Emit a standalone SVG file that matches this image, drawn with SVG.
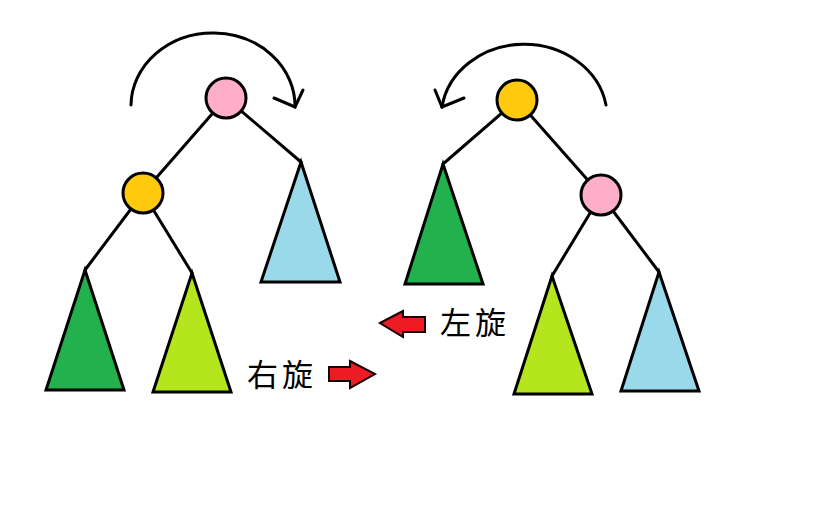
<svg xmlns="http://www.w3.org/2000/svg" width="818" height="524" viewBox="0 0 818 524">
<style>
.edge{stroke:#000;stroke-width:3;fill:none;stroke-linecap:round}
.circ{stroke:#000;stroke-width:3}
.tri{stroke:#000;stroke-width:3;stroke-linejoin:miter}
.rot{stroke:#000;stroke-width:3;fill:none;stroke-linecap:round;stroke-linejoin:miter}
.red{fill:#ED1C24;stroke:#1a0000;stroke-width:2;stroke-linejoin:miter}
.lbl{font-family:"Noto Sans CJK SC","Noto Sans CJK JP",sans-serif;font-size:31px;letter-spacing:4px;fill:#000}
</style>
<rect width="818" height="524" fill="#fff"/>
<g id="connectors">
<line class="edge" x1="226" y1="98" x2="143" y2="193"/>
<line class="edge" x1="226" y1="98" x2="301" y2="162"/>
<line class="edge" x1="143" y1="193" x2="85" y2="270"/>
<line class="edge" x1="143" y1="193" x2="192" y2="273"/>
<line class="edge" x1="517" y1="100" x2="443" y2="164"/>
<line class="edge" x1="517" y1="100" x2="601" y2="195"/>
<line class="edge" x1="601" y1="195" x2="552" y2="276"/>
<line class="edge" x1="601" y1="195" x2="659" y2="272"/>
</g>
<g id="rotate-right-arc">
<path class="rot" d="M131,105 A82,73 0 0 1 295,107"/>
<path class="rot" d="M274,98 L295,107 L303,90"/>
</g>
<g id="rotate-left-arc">
<path class="rot" d="M606,105 A83,73 0 0 0 442,107"/>
<path class="rot" d="M435,90 L442,107 L464,98"/>
</g>
<g id="L-tri-A"><polygon class="tri" fill="#22B14C" points="85,270 124,390 46,390"/></g>
<g id="L-tri-B"><polygon class="tri" fill="#B5E61D" points="192,273 231,392 153,392"/></g>
<g id="L-tri-C"><polygon class="tri" fill="#99D9EA" points="301,162 340,282 261,282"/></g>
<g id="L-node-pink"><circle class="circ" cx="226" cy="98" r="20" fill="#FFAEC9"/></g>
<g id="L-node-orange"><circle class="circ" cx="143" cy="193" r="20" fill="#FFC90E"/></g>
<g id="R-tri-A"><polygon class="tri" fill="#22B14C" points="443,164 483,284 405,284"/></g>
<g id="R-tri-B"><polygon class="tri" fill="#B5E61D" points="552,276 592,394 514,394"/></g>
<g id="R-tri-C"><polygon class="tri" fill="#99D9EA" points="659,272 699,391 621,391"/></g>
<g id="R-node-orange"><circle class="circ" cx="517" cy="100" r="20" fill="#FFC90E"/></g>
<g id="R-node-pink"><circle class="circ" cx="601" cy="195" r="20" fill="#FFAEC9"/></g>
<g id="arrow-left">
<polygon class="red" points="380,323 403,311 403,317 425,317 425,332 403,332 403,337"/>
<text class="lbl" x="440" y="334">左旋</text>
</g>
<g id="arrow-right">
<text class="lbl" x="247" y="386">右旋</text>
<polygon class="red" points="329,367 350,367 350,361 375,374 350,388 350,381 329,381"/>
</g>
</svg>
